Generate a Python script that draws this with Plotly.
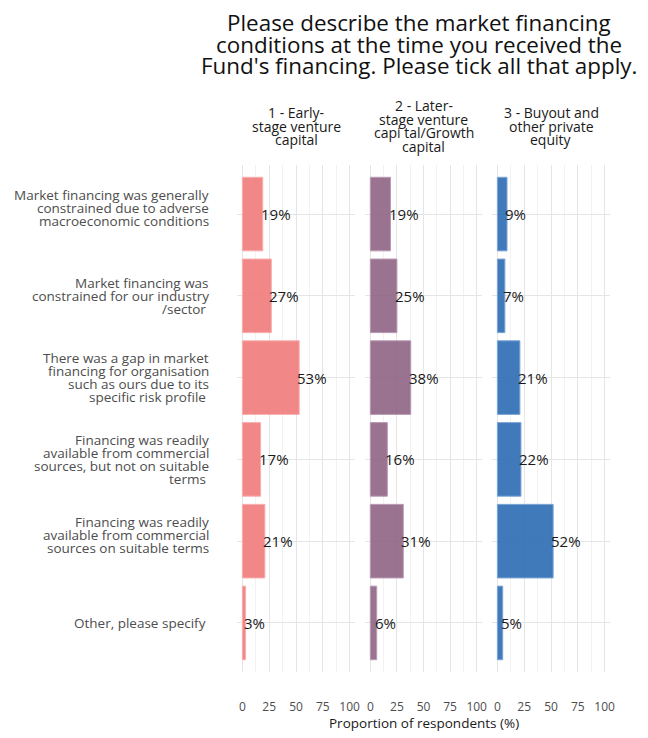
import plotly.graph_objects as go

# data
categories = [
    "Market financing was generally|constrained due to adverse|macroeconomic conditions|",
    "Market financing was|constrained for our industry|/sector ",
    "There was a gap in market|financing for organisation|such as ours due to its|specific risk profile ",
    "Financing was readily|available from commercial|sources, but not on suitable|terms ",
    "Financing was readily|available from commercial|sources on suitable terms|",
    "Other, please specify ",
]
panels = [
    "1 - Early-|stage venture|capital",
    "2 - Later-|stage venture|capi tal/Growth|capital",
    "3 - Buyout and|other private|equity",
]
title_text = "Please describe the market financing|conditions at the time you received the|Fund's financing. Please tick all that apply."
x_title = "Proportion of respondents (%)"
early_vc = [19, 27, 53, 17, 21, 3]
later_vc = [19, 25, 38, 16, 31, 6]
buyout = [9, 7, 21, 22, 52, 5]
series = [early_vc, later_vc, buyout]
xticks = [0, 25, 50, 75, 100]
minor_ticks = [12.5, 37.5, 62.5, 87.5]

colors = ["rgba(240,122,122,0.9)", "rgba(140,96,130,0.88)", "rgba(44,107,178,0.9)"]
edge = ["rgba(248,175,175,1)", "rgba(185,155,180,1)", "rgba(125,165,215,1)"]

FONT = "Open Sans"
W, H = 640, 730
ml, mt = 229, 157
pw, ph = 373, 507
mr, mb = W - ml - pw, H - mt - ph
domains = [(0, 118 / pw), (128 / pw, 245 / pw), (255 / pw, 1.0)]


def stacked(text, spacing, size, color, **kw):
    """Multi-line text as stacked lines with tight leading."""
    lines = text.split("|")
    n = len(lines)
    out = []
    for k, ln in enumerate(lines):
        if ln == "":
            continue
        off = (k - (n - 1) / 2) * spacing
        d = dict(text=ln, showarrow=False, yanchor="middle",
                 font=dict(family=FONT, size=size, color=color))
        d.update(kw)
        d["yshift"] = kw.get("yshift", 0) - off
        out.append(d)
    return out


fig = go.Figure()
annotations = []
for i, vals in enumerate(series):
    ax = "" if i == 0 else str(i + 1)
    fig.add_trace(go.Bar(
        x=vals, y=list(range(len(categories))), orientation="h", width=0.9,
        marker=dict(color=colors[i], line=dict(color=edge[i], width=1)),
        xaxis="x" + ax, yaxis="y" + ax, showlegend=False, hoverinfo="skip",
    ))
    for j, v in enumerate(vals):
        annotations.append(dict(
            x=v, y=j, xref="x" + ax, yref="y" + ax, text=f"{v}%",
            showarrow=False, xanchor="left", xshift=-4,
            font=dict(family=FONT, size=15, color="#1a1a1a"),
        ))
    annotations += stacked(
        panels[i], 13.5, 14, "#1a1a1a",
        x=(domains[i][0] + domains[i][1]) / 2, y=1.0, xref="paper", yref="paper",
        xanchor="center", yshift=mt - 118,
    )

for j, c in enumerate(categories):
    annotations += stacked(
        c, 13, 13.5, "#4d4d4d",
        x=0, y=j, xref="paper", yref="y", xanchor="right", align="right", xshift=-26,
    )

annotations += stacked(
    title_text, 21.5, 22.4, "#111111",
    x=(411 - ml) / pw, y=1.0, xref="paper", yref="paper", xanchor="center",
    yshift=mt - 36,
)
annotations.append(dict(
    x=0.5, y=0, xref="paper", yref="paper", yanchor="middle", yshift=-51,
    text=x_title, showarrow=False,
    font=dict(family=FONT, size=13.5, color="#1a1a1a"),
))

layout = dict(
    width=W, height=H, plot_bgcolor="white", paper_bgcolor="white",
    margin=dict(l=ml, r=mr, t=mt, b=mb, autoexpand=False),
    font=dict(family=FONT, color="#4d4d4d"),
    annotations=annotations,
)
for i in range(3):
    ax = "" if i == 0 else str(i + 1)
    layout["xaxis" + ax] = dict(
        domain=list(domains[i]), anchor="y" + ax, range=[-5, 105],
        tickvals=xticks, ticktext=[str(t) for t in xticks],
        showgrid=True, gridcolor="#e5e5e5", gridwidth=1.2, zeroline=False,
        minor=dict(tickvals=minor_ticks, showgrid=True, gridcolor="#f2f2f2", gridwidth=1),
        ticks="outside", ticklen=24, tickcolor="rgba(0,0,0,0)",
        tickfont=dict(family=FONT, size=12, color="#4d4d4d"), showline=False,
        automargin=False, fixedrange=True,
    )
    layout["yaxis" + ax] = dict(
        domain=[0, 1], anchor="x" + ax,
        tickvals=list(range(len(categories))),
        range=[len(categories) - 0.4, -0.6], showgrid=True, gridcolor="#e5e5e5",
        gridwidth=1.2, zeroline=False, showline=False, showticklabels=False,
        automargin=False, fixedrange=True,
    )
fig.update_layout(**layout)
fig.write_html("out.html")
